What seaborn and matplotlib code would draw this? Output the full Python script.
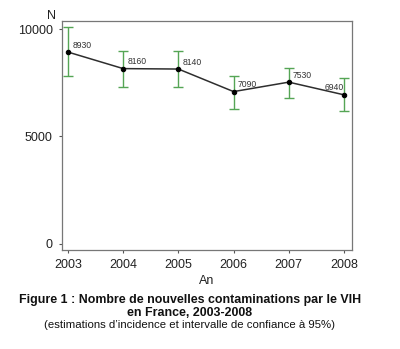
import matplotlib
matplotlib.use("Agg")
import matplotlib.pyplot as plt
import seaborn as sns
import pandas as pd

years = [2003, 2004, 2005, 2006, 2007, 2008]
values = [8930, 8160, 8140, 7090, 7530, 6940]
ci_low = [7800, 7300, 7300, 6300, 6800, 6200]
ci_high = [10100, 9000, 9000, 7800, 8200, 7700]
labels = ["8930", "8160", "8140", "7090", "7530", "6940"]
yticks = [0, 5000, 10000]

sns.set_theme(style="white")
plt.rcParams['font.family'] = ['Liberation Sans', 'DejaVu Sans']

df = pd.DataFrame({"An": years, "N": values, "lo": ci_low, "hi": ci_high})

fig = plt.figure(figsize=(4.0, 3.49), dpi=100)
ax = fig.add_axes([61.7/400, 1-250/349, 290/400, 229.3/349])

err = [[v - l for v, l in zip(values, ci_low)], [h - v for v, h in zip(values, ci_high)]]
ax.errorbar(years, values, yerr=err, fmt='none', ecolor='#55a555', elinewidth=1.0,
            capsize=3.5, capthick=1.0, zorder=2)
sns.lineplot(data=df, x="An", y="N", ax=ax, color='#2e2e2e', linewidth=1.1,
             marker='o', markersize=3.2, markerfacecolor='black', markeredgecolor='black',
             zorder=3)

for i, (x, y, t) in enumerate(zip(years, values, labels)):
    if i == len(years) - 1:
        ax.annotate(t, (x, y), xytext=(0, 5), textcoords='offset points',
                    ha='right', va='center', fontsize=6.2, color='#333333')
    else:
        ax.annotate(t, (x, y), xytext=(3, 5), textcoords='offset points',
                    ha='left', va='center', fontsize=6.2, color='#333333')

ax.set_xlim(2002.886, 2008.14)
ax.set_ylim(-283, 10390)
ax.set_xticks(years)
ax.set_xticklabels([str(y) for y in years], fontsize=9, color='#222222')
ax.set_yticks(yticks)
ax.set_yticklabels([str(y) for y in yticks], fontsize=9, color='#222222')
ax.tick_params(axis='both', which='both', direction='out', length=2.5, width=0.8,
               colors='#555555', labelcolor='#222222', left=True, bottom=True)
ax.tick_params(axis='x', pad=4)
ax.tick_params(axis='y', pad=4)
ax.set_xlabel("An", fontsize=9, color='#222222', labelpad=3)
ax.set_ylabel("")
for s in ax.spines.values():
    s.set_color('#777777')
    s.set_linewidth(0.9)

fig.text(52/400, 1-16/349, "N", fontsize=9, ha='center', va='center', color='#222222')

fig.text(190/400, 1-300/349, "Figure 1 : Nombre de nouvelles contaminations par le VIH",
         fontsize=8.9, fontweight='bold', ha='center', va='center', color='#111111')
fig.text(190/400, 1-313/349, "en France, 2003-2008",
         fontsize=8.9, fontweight='bold', ha='center', va='center', color='#111111')
fig.text(190/400, 1-325/349, "(estimations d\u2019incidence et intervalle de confiance \u00e0 95%)",
         fontsize=8.2, ha='center', va='center', color='#111111')

fig.savefig("out.png", dpi=100, facecolor='white')
